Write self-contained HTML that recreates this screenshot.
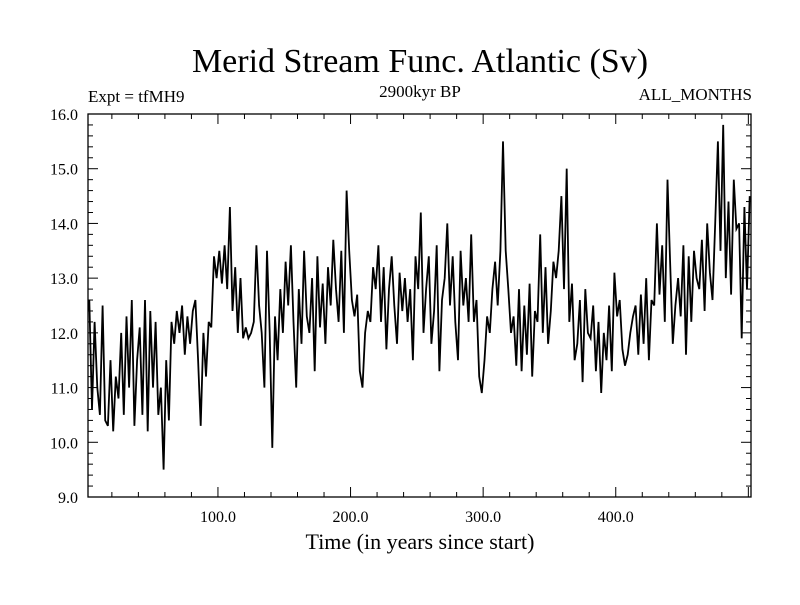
<!DOCTYPE html>
<html><head><meta charset="utf-8"><style>
body{margin:0;background:#fff}
svg text{font-family:"Liberation Serif",serif;fill:#000}
</style></head><body>
<svg id="chart" width="800" height="600">
<text x="420" y="72" font-size="34" text-anchor="middle">Merid Stream Func. Atlantic (Sv)</text>
<text x="88" y="102" font-size="17">Expt = tfMH9</text>
<text x="420" y="97" font-size="17" text-anchor="middle">2900kyr BP</text>
<text x="752" y="100" font-size="17" text-anchor="end">ALL_MONTHS</text>
<text x="420" y="549" font-size="22" text-anchor="middle">Time (in years since start)</text>
<g id="axes"></g>
<rect x="88" y="114" width="663" height="383" fill="none" stroke="#000" stroke-width="1.3"/>
</svg>
<script>
const values=[
12.3,12.6,10.6,12.2,11.0,10.5,12.5,10.4,10.3,11.5,
10.2,11.2,10.8,12.0,10.5,12.3,11.0,12.6,10.3,11.5,
12.1,10.5,12.6,10.2,12.4,11.0,12.2,10.5,11.0,9.5,
11.5,10.4,12.2,11.8,12.4,12.0,12.5,11.6,12.3,11.8,
12.4,12.6,11.5,10.3,12.0,11.2,12.2,12.1,13.4,13.0,
13.5,12.9,13.6,12.8,14.3,12.4,13.2,12.0,13.0,11.9,
12.1,11.9,12.0,12.2,13.6,12.5,12.0,11.0,13.5,12.0,
9.9,12.3,11.5,12.8,12.0,13.3,12.5,13.6,12.2,11.0,
12.8,11.8,13.5,12.3,12.0,13.0,11.3,13.4,12.1,12.9,
11.8,13.2,12.5,13.7,12.8,12.2,13.5,12.0,14.6,13.5,
12.6,12.3,12.7,11.3,11.0,12.0,12.4,12.2,13.2,12.8,
13.6,12.2,13.2,11.7,12.8,13.4,12.5,11.8,13.1,12.4,
13.0,12.2,12.8,11.5,13.4,12.8,14.2,12.0,12.8,13.4,
11.8,12.4,13.6,11.3,12.6,13.0,14.0,12.5,13.4,12.2,
11.5,13.5,12.5,13.0,12.2,13.8,12.2,12.6,11.2,10.9,
11.5,12.3,12.0,12.8,13.3,12.5,13.5,15.5,13.5,12.8,
12.0,12.3,11.4,12.8,11.3,12.5,11.6,12.9,11.2,12.4,
12.2,13.8,12.0,13.2,11.8,12.4,13.3,13.0,13.5,14.5,
12.8,15.0,12.2,12.9,11.5,11.8,12.6,11.1,12.8,12.0,
11.9,12.5,11.3,12.2,10.9,12.0,11.5,12.5,11.3,13.1,
12.3,12.6,11.7,11.4,11.6,12.0,12.3,12.5,11.6,12.7,
11.8,13.0,11.5,12.6,12.5,14.0,12.7,13.6,12.2,14.8,
13.3,11.8,12.5,13.0,12.3,13.6,11.6,13.4,12.2,13.5,
13.0,12.8,13.7,12.4,14.0,13.1,12.6,14.0,15.5,13.5,
15.8,13.0,14.4,12.7,14.8,13.9,14.0,11.9,14.3,12.8,14.5];
const startYear=1, stepYears=2;
const xTicks=[100,200,300,400];
const xTickLabels=["100.0","200.0","300.0","400.0"];
const yTicks=[9,10,11,12,13,14,15,16];
const yTickLabels=["9.0","10.0","11.0","12.0","13.0","14.0","15.0","16.0"];
const L=88,R=751,T=114,B=497,xMin=2,xMax=502,yMin=9,yMax=16;
const sx=v=>L+(v-xMin)/(xMax-xMin)*(R-L);
const sy=v=>B-(v-yMin)/(yMax-yMin)*(B-T);
const NS="http://www.w3.org/2000/svg";
const g=document.getElementById('axes');
function line(x1,y1,x2,y2,name){const l=document.createElementNS(NS,'line');
l.setAttribute('x1',x1);l.setAttribute('y1',y1);l.setAttribute('x2',x2);l.setAttribute('y2',y2);
l.setAttribute('stroke','#000');l.setAttribute('stroke-width','1');


g.appendChild(l);}
function text(x,y,s,anchor,name){const t=document.createElementNS(NS,'text');
t.setAttribute('x',x);t.setAttribute('y',y);t.setAttribute('font-size','16');t.setAttribute('text-anchor',anchor);t.textContent=s;


g.appendChild(t);}
for(let v=20;v<=500;v+=20){const x=sx(v);const major=v%100===0;const len=major?10:5;
line(x,B,x,B-len,'x-tick');line(x,T,x,T+len,'x-tick-top');}
xTicks.forEach((v,i)=>text(sx(v),522,xTickLabels[i],'middle','x-tick-label'));
for(let k=0;k<=35;k++){const v=yMin+k*0.2;const y=sy(v);const major=k%5===0;const len=major?10:5;
line(L,y,L+len,y,'y-tick');line(R,y,R-len,y,'y-tick-right');}
yTicks.forEach((v,i)=>text(78,sy(v)+6,yTickLabels[i],'end','y-tick-label'));
const pts=values.map((v,i)=>sx(startYear+i*stepYears).toFixed(1)+','+sy(v).toFixed(1)).join(' ');
const pl=document.createElementNS(NS,'polyline');
pl.setAttribute('points',pts);pl.setAttribute('fill','none');pl.setAttribute('stroke','#000');pl.setAttribute('stroke-width','1.8');


const clip=document.createElementNS(NS,'clipPath');clip.setAttribute('id','c');
const cr=document.createElementNS(NS,'rect');cr.setAttribute('x',L);cr.setAttribute('y',T);cr.setAttribute('width',R-L);cr.setAttribute('height',B-T);
clip.appendChild(cr);g.appendChild(clip);pl.setAttribute('clip-path','url(#c)');
g.appendChild(pl);
</script>
</body></html>
